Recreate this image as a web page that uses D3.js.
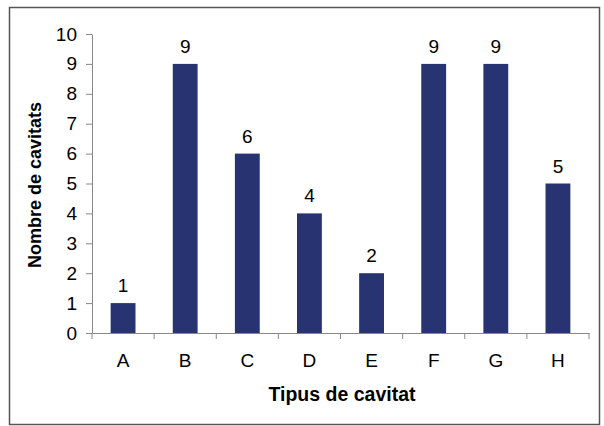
<!DOCTYPE html>
<html><head><meta charset="utf-8">
<script src="https://cdn.jsdelivr.net/npm/d3@7"></script>
<style>body{margin:0;background:#fff}</style>
</head><body>
<svg id="c" width="604" height="426"></svg>
<script>
const categories = ["A","B","C","D","E","F","G","H"];
const values = [1,9,6,4,2,9,9,5];
const yTicks = [0,1,2,3,4,5,6,7,8,9,10];

const svg = d3.select("#c");
svg.append("rect").attr("x",9.5).attr("y",7.5).attr("width",590).attr("height",417)
  .attr("fill","#fff").attr("stroke","#555").attr("stroke-width",1.5);

const pLeft=92, pRight=589, pTop=34, pBottom=333;
const x = d3.scaleBand().domain(categories).range([pLeft,pRight]).paddingInner(0.6).paddingOuter(0.3);
const xb = d3.scaleBand().domain(categories).range([pLeft,pRight]);
const y = d3.scaleLinear().domain([0,10]).range([pBottom,pTop]);
const font = "Arial, 'Liberation Sans', sans-serif";

svg.selectAll(".bar").data(values).join("rect")
  .attr("x",(d,i)=>x(categories[i])).attr("width",x.bandwidth())
  .attr("y",d=>y(d)).attr("height",d=>y(0)-y(d)).attr("fill","#283471");

svg.selectAll(".lbl").data(values).join("text")
  .attr("x",(d,i)=>x(categories[i])+x.bandwidth()/2).attr("y",d=>y(d)-11)
  .attr("text-anchor","middle").attr("font-family",font).attr("font-size",19).text(d=>d);

const ya = svg.append("g").attr("transform",`translate(${pLeft},0)`)
  .call(d3.axisLeft(y).tickValues(yTicks).tickSize(6).tickPadding(9).tickSizeOuter(0));
ya.select(".domain").attr("stroke","#888");
ya.selectAll(".tick line").attr("stroke","#888");
ya.selectAll("text").attr("font-family",font).attr("font-size",19).attr("fill","#000");

const xa = svg.append("g").attr("transform",`translate(0,${pBottom})`)
  .call(d3.axisBottom(xb).tickSize(0).tickPadding(21));
xa.select(".domain").attr("stroke","#888");
xa.selectAll("text").attr("font-family",font).attr("font-size",19).attr("fill","#000");
const bounds = categories.map(c=>xb(c)).concat([pRight]);
svg.append("g").selectAll("line").data(bounds).join("line")
  .attr("x1",d=>d).attr("x2",d=>d).attr("y1",pBottom).attr("y2",pBottom+6).attr("stroke","#888");

svg.append("text").attr("x",342).attr("y",401).attr("text-anchor","middle")
  .attr("font-family",font).attr("font-size",19.5).attr("font-weight","bold").text("Tipus de cavitat");
svg.append("text").attr("transform",`translate(41,${185}) rotate(-90)`).attr("text-anchor","middle")
  .attr("font-family",font).attr("font-size",18).attr("font-weight","bold").text("Nombre de cavitats");
</script>
</body></html>
